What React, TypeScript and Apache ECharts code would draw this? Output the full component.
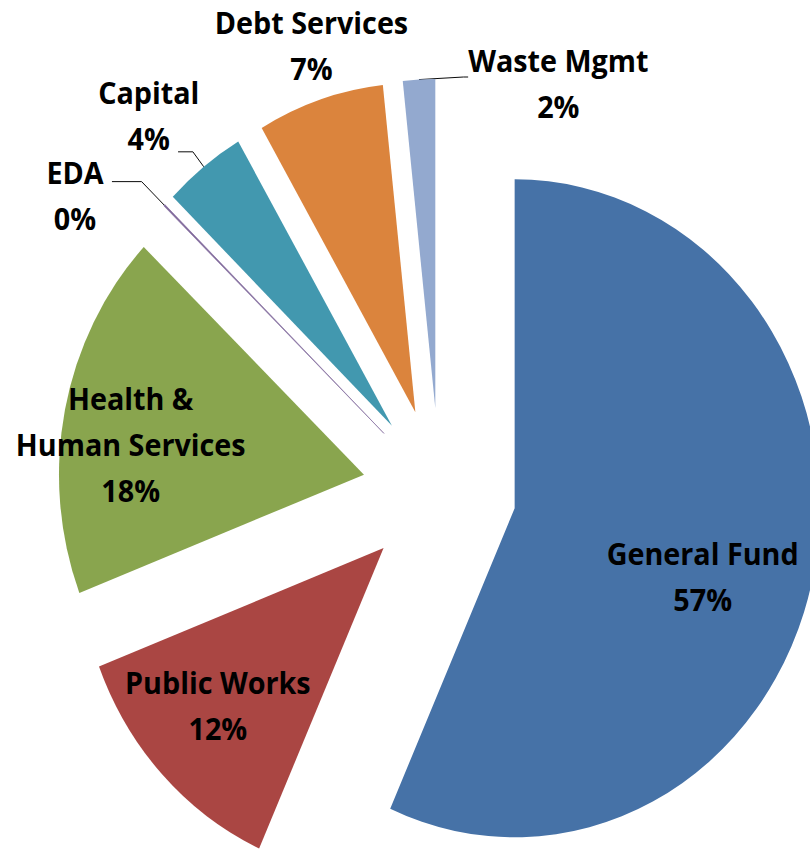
import { useEffect, useRef } from 'react';
import * as echarts from 'echarts';

// ---- data ----
const categories = ['General Fund', 'Public Works', 'Health & Human Services', 'EDA', 'Capital', 'Debt Services', 'Waste Mgmt'];
const labelNames = ['General Fund', 'Public Works', 'Health &\nHuman Services', 'EDA', 'Capital', 'Debt Services', 'Waste Mgmt'];
const values = [56.65, 12.45, 18.0, 0.08, 4.35, 6.7, 1.7];
const colors = ['#4672A7', '#AA4643', '#89A54E', '#80699B', '#4298AF', '#DB843D', '#93A9CF'];

// ---- layout (chart pixel space before horizontal scaling) ----
const SCALE_X = 0.927;
const CHART_W = 874;
const CHART_H = 850;
const PIE_CX = 474;
const PIE_CY = 491;
const PIE_R = 329;
const EXPLODE = 83;
const FONT = '"Open Sans", "Noto Sans", sans-serif';
const FONT_SIZE = 31;

type LabelCfg = {
  mode: 'fixed' | 'native';
  x?: number; y?: number; align?: string;
  padding?: number[];
  line?: boolean;
  len?: number; len2?: number; dist?: number;
};
const labelCfg: LabelCfg[] = [
  { mode: 'fixed', x: 758, y: 576, align: 'center' },
  { mode: 'fixed', x: 235, y: 705, align: 'center' },
  { mode: 'fixed', x: 141, y: 444, align: 'center' },
  { mode: 'native', len: 34, len2: 32, dist: 9, padding: [27, 0, 0, 0] },
  { mode: 'native', len: 19, len2: 16, dist: -23, padding: [0, 0, 73, 0] },
  { mode: 'fixed', x: 336, y: 45.5, align: 'center' },
  { mode: 'fixed', x: 505, y: 77, align: 'left', padding: [12, 0, 0, 0], line: true },
];

function buildOption() {
  const total = values.reduce((a, b) => a + b, 0);
  let cum = 0;
  const series = values.map((v, i) => {
    const startDeg = (cum / total) * 360;
    const sweep = (v / total) * 360;
    cum += v;
    const mid = ((startDeg + sweep / 2) * Math.PI) / 180;
    const ux = Math.sin(mid);
    const uy = -Math.cos(mid);
    const cx = PIE_CX + EXPLODE * ux;
    const cy = PIE_CY + EXPLODE * uy;
    const cfg = labelCfg[i];
    const native = cfg.mode === 'native';
    const outside = native || !!cfg.line;
    let labelLayout: any = undefined;
    if (!native) {
      labelLayout = { x: cfg.x, y: cfg.y, align: cfg.align, verticalAlign: 'middle' };
      if (cfg.line) {
        const p0x = cx + PIE_R * ux;
        const p0y = cy + PIE_R * uy;
        labelLayout.labelLinePoints = [[p0x, p0y], [(cfg.x as number) - 5, cfg.y], [cfg.x, cfg.y]];
      }
    }
    const textStyle = { fontFamily: FONT, fontWeight: 'bold', fontSize: FONT_SIZE, lineHeight: 46, color: '#000' };
    return {
      type: 'pie',
      name: categories[i],
      center: [cx, cy],
      radius: PIE_R,
      startAngle: 90 - startDeg,
      clockwise: true,
      avoidLabelOverlap: false,
      silent: true,
      selectedMode: false,
      emphasis: { disabled: true },
      label: {
        show: true,
        position: outside ? 'outside' : 'inside',
        ...textStyle,
        padding: cfg.padding || 0,
        distanceToLabelLine: native ? cfg.dist : 5,
        formatter: (p: any) =>
          labelNames[i].split('\n').concat([`${Math.round(p.percent)}%`]).map((s) => `{c|${s}}`).join('\n'),
        rich: { c: { ...textStyle, align: 'center' } },
      },
      labelLine: {
        show: outside,
        length: cfg.len ?? 10,
        length2: cfg.len2 ?? 10,
        smooth: false,
        minTurnAngle: 0,
        maxSurfaceAngle: 180,
        lineStyle: { color: '#000', width: 1 },
      },
      labelLayout,
      data: [
        {
          name: categories[i],
          value: v,
          itemStyle: { color: colors[i], borderColor: colors[i], borderWidth: i === 3 ? 0.6 : 0 },
        },
        {
          name: '',
          value: total - v,
          itemStyle: { color: 'rgba(0,0,0,0)', borderWidth: 0 },
          label: { show: false },
          labelLine: { show: false },
        },
      ],
    };
  });
  return { animation: false, backgroundColor: '#ffffff', series };
}

export default function App() {
  const ref = useRef<HTMLDivElement>(null);
  useEffect(() => {
    const chart = echarts.init(ref.current as HTMLDivElement, null, { renderer: 'svg' });
    chart.setOption(buildOption() as any);
    return () => chart.dispose();
  }, []);
  return (
    <div
      ref={ref}
      style={{
        position: 'fixed',
        left: 0,
        top: 0,
        width: CHART_W,
        height: CHART_H,
        transform: `scaleX(${SCALE_X})`,
        transformOrigin: '0 0',
        background: '#fff',
      }}
    />
  );
}
